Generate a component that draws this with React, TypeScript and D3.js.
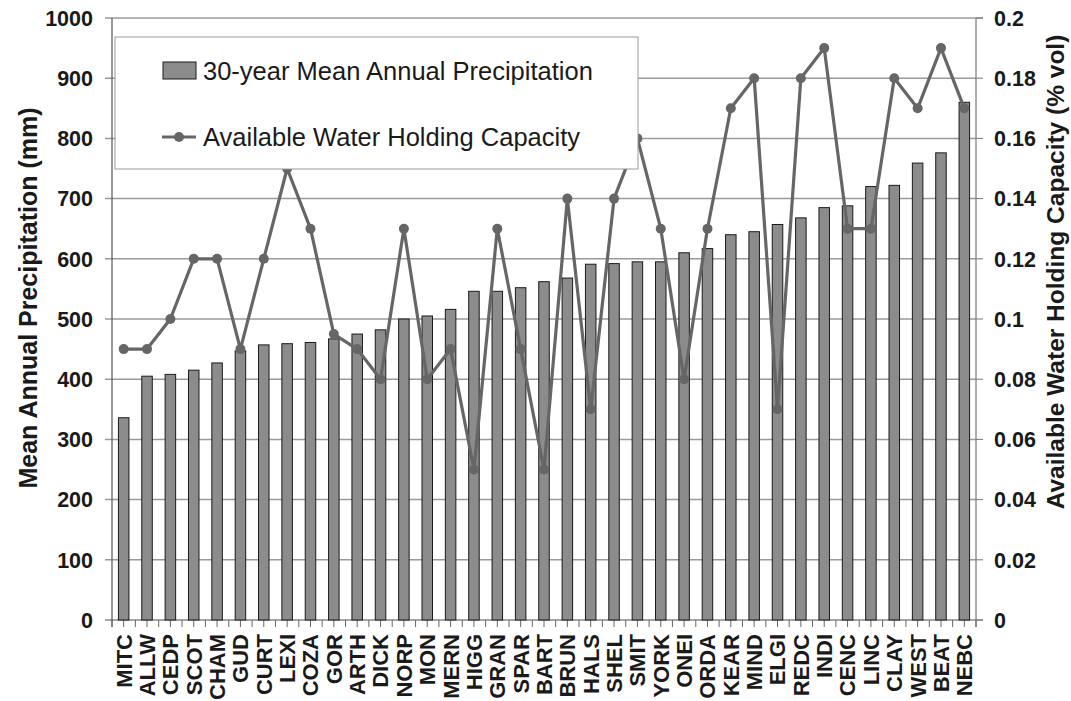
import React from 'react';
import {scaleBand, scaleLinear, line, range} from 'd3';

const sites = ['MITC','ALLW','CEDP','SCOT','CHAM','GUD','CURT','LEXI','COZA','GOR','ARTH','DICK','NORP','MON','MERN','HIGG','GRAN','SPAR','BART','BRUN','HALS','SHEL','SMIT','YORK','ONEI','ORDA','KEAR','MIND','ELGI','REDC','INDI','CENC','LINC','CLAY','WEST','BEAT','NEBC'];
// 30-year mean annual precipitation (mm)
const precip = [336,405,408,415,427,447,457,459,461,467,475,482,500,505,516,546,546,552,562,568,591,592,595,595,610,617,640,645,657,668,685,688,720,722,759,776,860];
// available water holding capacity (% vol)
const awc = [0.09,0.09,0.1,0.12,0.12,0.09,0.12,0.15,0.13,0.095,0.09,0.08,0.13,0.08,0.09,0.05,0.13,0.09,0.05,0.14,0.07,0.14,0.16,0.13,0.08,0.13,0.17,0.18,0.07,0.18,0.19,0.13,0.13,0.18,0.17,0.19,0.17];
const leftTicks = [0,100,200,300,400,500,600,700,800,900,1000];
const rightTicks = [0,0.02,0.04,0.06,0.08,0.1,0.12,0.14,0.16,0.18,0.2];

const W = 1071, H = 701;
const L = 112, R = 976, T = 18, B = 620;
const font = 'Arial, "Liberation Sans", sans-serif';

const App = (): JSX.Element => {
    const x = scaleBand().domain(sites).range([L, R]);
    const yL = scaleLinear().domain([0, 1000]).range([B, T]);
    const yR = scaleLinear().domain([0, 0.2]).range([B, T]);
    const bw = x.step() * 0.45;
    const cx = (s: string) => (x(s) as number) + x.bandwidth() / 2;

    const awcLine = line<number>()
        .x((d, i) => cx(sites[i]))
        .y((d) => yR(d));

    const halfTicks = range(0, sites.length * 2 + 1).map(i => L + i * x.step() / 2);

    return (
        <svg width={W} height={H} viewBox={`0 0 ${W} ${H}`} style={{position: 'absolute', left: 0, top: 0, background: '#fff'}}>
            {/* grid + left ticks */}
            {leftTicks.map(t => (
                <line key={'g' + t} x1={L - 7} x2={t === 1000 ? R + 7 : R} y1={yL(t)} y2={yL(t)}
                      stroke={t === 0 ? '#888' : '#9a9a9a'} strokeWidth={1.5}/>
            ))}
            {rightTicks.map(t => (
                <line key={'rt' + t} x1={R} x2={R + 7} y1={yR(t)} y2={yR(t)} stroke="#777" strokeWidth={1}/>
            ))}
            <line x1={R} x2={R + 7} y1={B} y2={B} stroke="#888" strokeWidth={1.5}/>
            <line x1={L} x2={L} y1={T} y2={B + 7} stroke="#555" strokeWidth={1.2}/>
            <line x1={R} x2={R} y1={T} y2={B + 7} stroke="#777" strokeWidth={1.2}/>
            {halfTicks.map((t, i) => (
                <line key={'xt' + i} x1={t} x2={t} y1={B} y2={B + 7} stroke="#666" strokeWidth={1}/>
            ))}

            {/* bars */}
            {sites.map((s, i) => (
                <rect key={s} x={cx(s) - bw / 2} y={yL(precip[i])} width={bw} height={B - yL(precip[i])}
                      fill="#8c8c8c" stroke="#1a1a1a" strokeWidth={1}/>
            ))}

            {/* AWC line */}
            <path d={awcLine(awc) as string} fill="none" stroke="#666" strokeWidth={3.2} strokeLinejoin="round"/>
            {awc.map((v, i) => (
                <circle key={'c' + i} cx={cx(sites[i])} cy={yR(v)} r={5} fill="#666"/>
            ))}

            {/* legend */}
            <rect x={115} y={37} width={523} height={132} fill="#fff" stroke="#999" strokeWidth={1}/>
            <rect x={163} y={62} width={33} height={17} fill="#8c8c8c" stroke="#1a1a1a" strokeWidth={1}/>
            <text x={203} y={80} fontFamily={font} fontSize={25.5} fill="#1a1a1a">30-year Mean Annual Precipitation</text>
            <line x1={162} x2={196} y1={137} y2={137} stroke="#666" strokeWidth={3.2}/>
            <circle cx={179} cy={137} r={5} fill="#666"/>
            <text x={203} y={146} fontFamily={font} fontSize={25.5} fill="#1a1a1a">Available Water Holding Capacity</text>

            {/* left axis labels */}
            {leftTicks.map(t => (
                <text key={'lt' + t} x={93} y={yL(t)} dy="0.36em" textAnchor="end" fontFamily={font}
                      fontWeight="bold" fontSize={21.5} fill="#1a1a1a">{t}</text>
            ))}
            {rightTicks.map(t => (
                <text key={'rl' + t} x={994} y={yR(t)} dy="0.36em" textAnchor="start" fontFamily={font}
                      fontWeight="bold" fontSize={21.5} fill="#1a1a1a">{String(t)}</text>
            ))}
            {sites.map(s => (
                <text key={'xl' + s} transform={`translate(${cx(s)},634) rotate(-90)`} dy="0.36em" textAnchor="end"
                      fontFamily={font} fontWeight="bold" fontSize={22} fill="#1a1a1a">{s}</text>
            ))}

            {/* axis titles */}
            <text transform="translate(37,298) rotate(-90)" textAnchor="middle" fontFamily={font}
                  fontWeight="bold" fontSize={25} fill="#1a1a1a">Mean Annual Precipitation (mm)</text>
            <text transform="translate(1064,272) rotate(-90)" textAnchor="middle" fontFamily={font}
                  fontWeight="bold" fontSize={24.5} fill="#1a1a1a">Available Water Holding Capacity (% vol)</text>
        </svg>
    );
};

export default App;
